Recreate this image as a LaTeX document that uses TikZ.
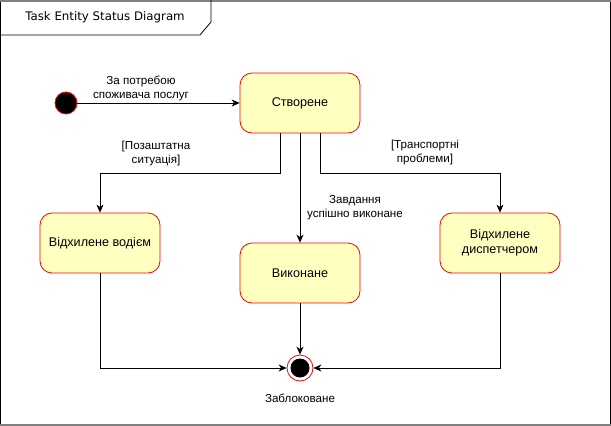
\documentclass[tikz,border=0pt]{standalone}
\usepackage{fontspec}
\setmainfont{Liberation Sans}
\newfontfamily\titlefont{DejaVu Sans}
\usetikzlibrary{arrows.meta}
\definecolor{statefill}{HTML}{FFFFC0}
\definecolor{statered}{HTML}{FF0000}
\definecolor{framegray}{HTML}{808080}
\begin{document}
\begin{tikzpicture}[x=1pt,y=-1pt,
  statebox/.style={draw=statered,fill=statefill,rounded corners=12pt,minimum width=120pt,minimum height=60pt,align=center,font=\fontsize{12.6pt}{15pt}\selectfont,inner sep=0pt,line width=0.8pt},
  lbl/.style={align=center,font=\fontsize{11.6pt}{14pt}\selectfont,inner sep=0pt},
  conn/.style={line width=0.8pt,-{Stealth[length=8pt,width=7pt,inset=2.5pt]}}]
\useasboundingbox (0,0) rectangle (611,426);
% frame
\draw[line width=1pt] (0.5,0) -- (0.5,426);
\draw[line width=1pt] (610.5,0) -- (610.5,426);
\draw[framegray,line width=2pt] (0,1) -- (611,1);
\draw[framegray,line width=2pt] (0,425) -- (611,425);
\draw[line width=0.8pt] (0,35) -- (200,35) -- (211,22) -- (211,0);
\node[font=\titlefont\fontsize{11.8pt}{14pt}\selectfont] (title) at (105,17) {Task Entity Status Diagram};
% states
\node[circle,fill=black,draw=statered,line width=0.8pt,minimum size=22pt,inner sep=0pt] (init) at (66,103) {};
\node[statebox] (created) at (300,103) {Створене};
\node[statebox] (rejdrv) at (100,243) {Відхилене водієм};
\node[statebox] (done) at (300,273) {Виконане};
\node[statebox] (rejdisp) at (500,243) {Відхилене\\диспетчером};
\node[circle,draw=statered,fill=white,line width=0.8pt,minimum size=26pt,inner sep=0pt] (final) at (300,368) {};
\node[circle,fill=black,minimum size=19pt,inner sep=0pt] (finalin) at (300,368) {};
\node[lbl] (finallbl) at (300,398) {Заблоковане};
% edges
\draw[conn] (init) -- (created);
\node[lbl] (l1) at (141,88) {За потребою\\споживача послуг};
\draw[conn] ([xshift=-20pt]created.south) |- (100,173) -- (rejdrv.north);
\node[lbl] (l2) at (156,153) {[Позаштатна\\ситуація]};
\draw[conn] (created.south) -- (done.north);
\node[lbl] (l3) at (355,208) {Завдання\\успішно виконане};
\draw[conn] ([xshift=20pt]created.south) |- (500,173) -- (rejdisp.north);
\node[lbl] (l4) at (425,152) {[Транспортні\\проблеми]};
\draw[conn] (done.south) -- (final.north);
\draw[conn] (rejdrv.south) |- (final.west);
\draw[conn] (rejdisp.south) |- (final.east);
\end{tikzpicture}
\end{document}
